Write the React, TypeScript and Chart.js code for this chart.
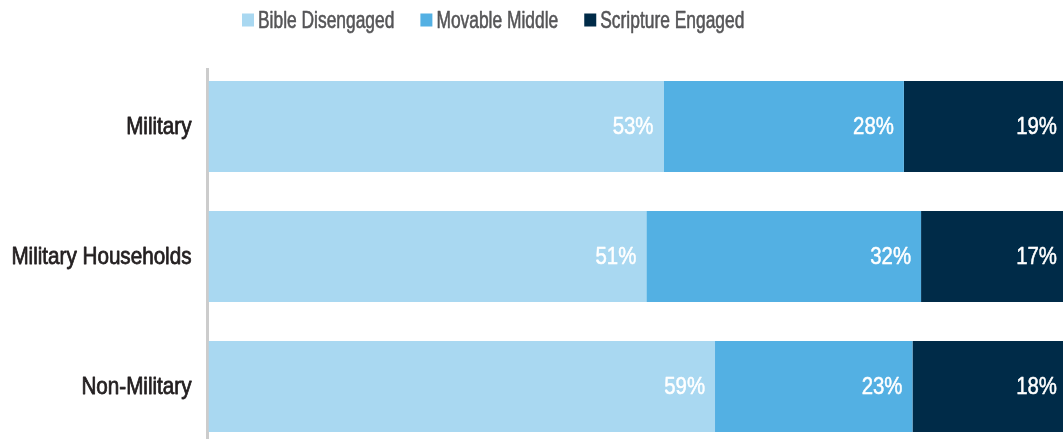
import React, { useEffect, useRef } from "react";
import { Chart, registerables } from "chart.js";

Chart.register(...registerables);

const categories = ["Military", "Military Households", "Non-Military"];
const seriesNames = ["Bible Disengaged", "Movable Middle", "Scripture Engaged"];
const bibleDisengaged = [53, 51, 59];
const movableMiddle = [28, 32, 23];
const scriptureEngaged = [19, 17, 18];
const seriesColors = ["#A9D8F1", "#53B0E3", "#002B48"];

const FONT = "'Liberation Sans', Arial, sans-serif";

// Draw text horizontally condensed (emulates a condensed Helvetica face)
function condensedText(
  ctx: CanvasRenderingContext2D,
  text: string,
  x: number,
  y: number,
  size: number,
  sx: number,
  align: "left" | "right",
  color: string,
  weight: number
) {
  ctx.save();
  ctx.font = `${size}px ${FONT}`;
  ctx.fillStyle = color;
  ctx.strokeStyle = color;
  ctx.lineWidth = weight;
  ctx.lineJoin = "round";
  ctx.textBaseline = "middle";
  ctx.textAlign = align;
  ctx.translate(x, y);
  ctx.scale(sx, 1);
  ctx.fillText(text, 0, 0);
  if (weight > 0) ctx.strokeText(text, 0, 0);
  const w = ctx.measureText(text).width * sx;
  ctx.restore();
  return w;
}

const axisLinePlugin = {
  id: "axisLine",
  beforeDatasetsDraw(chart: any) {
    const { ctx, chartArea } = chart;
    ctx.save();
    ctx.fillStyle = "#CCCCCC";
    ctx.fillRect(Math.round(chartArea.left) - 3, chartArea.top + 6.5, 3, chart.height);
    ctx.restore();
  },
};

const categoryLabelPlugin = {
  id: "categoryLabels",
  afterDraw(chart: any) {
    const { ctx, chartArea } = chart;
    const yScale = chart.scales.y;
    (chart.data.labels as string[]).forEach((label, i) => {
      const y = yScale.getPixelForValue(i);
      condensedText(ctx, label, chartArea.left - 17, y + 1, 24, 0.86, "right", "#231F20", 0.8);
    });
  },
};

const valueLabelPlugin = {
  id: "valueLabels",
  afterDatasetsDraw(chart: any) {
    const { ctx } = chart;
    chart.data.datasets.forEach((ds: any, di: number) => {
      const meta = chart.getDatasetMeta(di);
      meta.data.forEach((bar: any, i: number) => {
        condensedText(ctx, `${ds.data[i]}%`, bar.x - 10, bar.y + 1, 24, 0.85, "right", "#FFFFFF", 0.5);
      });
    });
  },
};

const legendPlugin = {
  id: "customLegend",
  afterDraw(chart: any) {
    const { ctx } = chart;
    let x = 242;
    const y = 20;
    chart.data.datasets.forEach((ds: any) => {
      ctx.save();
      ctx.fillStyle = ds.backgroundColor;
      ctx.fillRect(x, y - 6.5, 12, 13);
      ctx.restore();
      x += 16;
      const w = condensedText(ctx, ds.label, x, y + 1, 24, 0.725, "left", "#555557", 0.6);
      x += w + 26;
    });
  },
};

export default function App() {
  const ref = useRef<HTMLCanvasElement>(null);
  useEffect(() => {
    if (!ref.current) return;
    const seriesData = [bibleDisengaged, movableMiddle, scriptureEngaged];
    const chart = new Chart(ref.current, {
      type: "bar",
      data: {
        labels: categories,
        datasets: seriesNames.map((name, i) => ({
          label: name,
          data: seriesData[i],
          backgroundColor: seriesColors[i],
          borderWidth: 0,
          barPercentage: 0.7,
          categoryPercentage: 1,
        })),
      },
      options: {
        indexAxis: "y",
        responsive: false,
        maintainAspectRatio: false,
        animation: false,
        layout: { padding: { top: 61.5, bottom: 8.5, right: 1, left: 0 } },
        plugins: {
          legend: { display: false },
          tooltip: { enabled: false },
        },
        scales: {
          x: { stacked: true, min: 0, max: 100, display: false },
          y: {
            stacked: true,
            grid: { display: false, drawTicks: false },
            border: { display: false },
            ticks: { display: false },
            afterFit(scale: any) {
              scale.width = 208.5;
            },
          },
        },
      },
      plugins: [axisLinePlugin, valueLabelPlugin, categoryLabelPlugin, legendPlugin],
    });
    return () => chart.destroy();
  }, []);
  return (
    <div
      style={{
        position: "fixed",
        left: 0,
        top: 0,
        width: 1063,
        height: 439,
        overflow: "hidden",
        background: "#FFFFFF",
      }}
    >
      <div style={{ width: 1068, height: 460, position: "relative" }}>
        <canvas
          ref={ref}
          width={1068}
          height={460}
          style={{ display: "block", width: 1068, height: 460 }}
        />
      </div>
    </div>
  );
}
